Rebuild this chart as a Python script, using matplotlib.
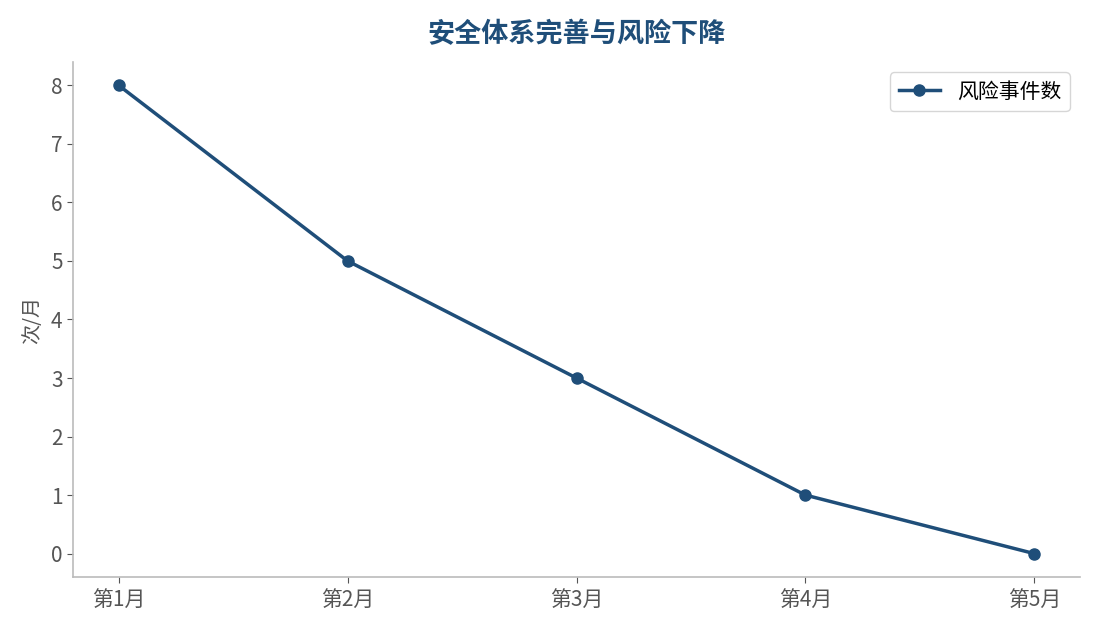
import matplotlib.pyplot as plt

plt.rcParams['font.family'] = ['Noto Sans CJK SC', 'DejaVu Sans']

months = ['第1月', '第2月', '第3月', '第4月', '第5月']
risk_events = [8, 5, 3, 1, 0]

fig = plt.figure(figsize=(10.95, 6.3), dpi=100)
ax = fig.add_axes([73 / 1095, 1 - 577 / 630, (1080 - 73) / 1095, (577 - 62) / 630])

ax.plot(months, risk_events, color='#1f4e79', linewidth=2.5, marker='o',
        markersize=8, label='风险事件数')

ax.set_ylabel('次/月', fontsize=14.5, color='#555555', labelpad=6)
ax.set_title('安全体系完善与风险下降', fontsize=19.5, fontweight='bold',
             color='#1f4e79', pad=14)

for side in ['top', 'right']:
    ax.spines[side].set_visible(False)
for side in ['left', 'bottom']:
    ax.spines[side].set_color('#bbbbbb')
    ax.spines[side].set_linewidth(1.2)
ax.tick_params(colors='#555555', labelsize=15, length=4)
ax.tick_params(axis='x', pad=5)

leg = ax.legend(loc='upper right', fontsize=15, frameon=True)
leg.get_frame().set_edgecolor('#cccccc')

fig.savefig('out.png', dpi=100)
